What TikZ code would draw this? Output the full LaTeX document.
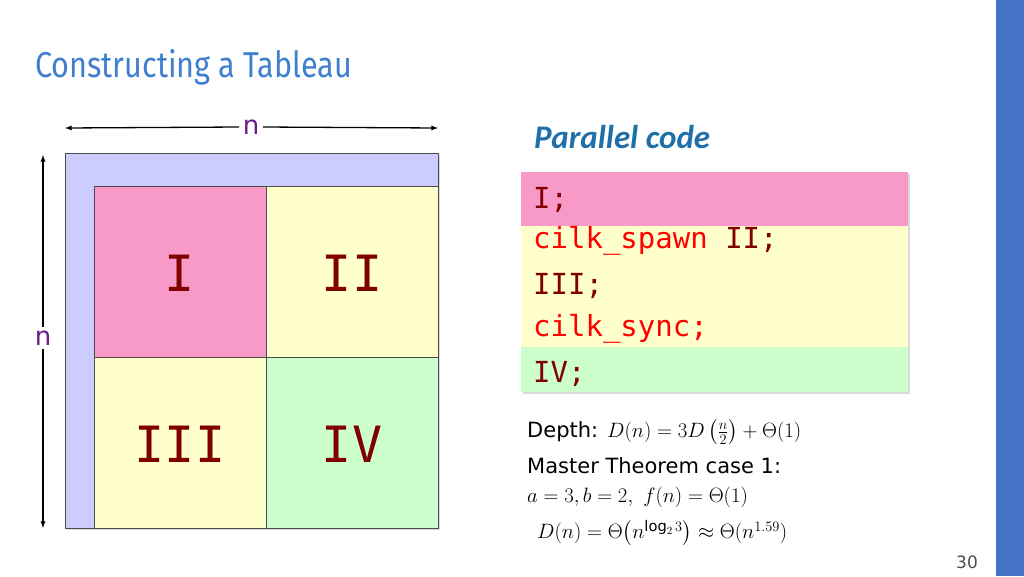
\documentclass[tikz,border=0pt]{standalone}
\usepackage{amsmath}
\usepackage{fontspec}
\setmainfont{DejaVu Sans}
\newfontfamily\titlefont{Fira Sans}
\newfontfamily\calfont{Carlito}
\newfontfamily\codefont{DejaVu Sans Mono}
\usetikzlibrary{shadows}
\definecolor{barblue}{HTML}{4472C4}
\definecolor{titleblue}{HTML}{3F7FD0}
\definecolor{pcblue}{HTML}{1F6FA8}
\definecolor{lav}{HTML}{CCCCFF}
\definecolor{pinkq}{HTML}{F79AC8}
\definecolor{yelq}{HTML}{FFFFCC}
\definecolor{grnq}{HTML}{CCFFCC}
\definecolor{dred}{HTML}{800000}
\definecolor{nlab}{HTML}{6A1B8A}
\tikzset{quad/.style={draw=black!70,line width=0.8pt},
 qlab/.style={font=\codefont\fontsize{50}{50}\selectfont,text=dred},
 code/.style={anchor=west,font=\codefont\fontsize{29}{30}\selectfont,inner sep=0},
 mtext/.style={anchor=west,font=\fontsize{21}{24}\selectfont,inner sep=0},
 dim/.style={<->,>=latex,line width=1.3pt}}
\begin{document}
\begin{tikzpicture}[x=1pt,y=-1pt]
\useasboundingbox (0,0) rectangle (1024,576);
\fill[barblue] (996,0) rectangle (1024,576);
\node[anchor=west,inner sep=0,text=titleblue] (title) at (35,67) {\scalebox{0.85}[1]{\titlefont\fontsize{36}{40}\selectfont Constructing a Tableau}};
% matrix
\fill[lav,draw=black!70,line width=0.8pt,drop shadow={opacity=0.3,shadow xshift=2pt,shadow yshift=-2pt}] (65,153) rectangle (438,528);
\fill[pinkq] (94,186) rectangle (266,357);
\fill[yelq] (266,186) rectangle (438,357);
\fill[yelq] (94,357) rectangle (266,528);
\fill[grnq] (266,357) rectangle (438,528);
\draw[quad] (94,186) rectangle (438,528);
\draw[quad] (266,186) -- (266,528);
\draw[quad] (94,357) -- (438,357);
\node[qlab] (q1) at (180,273) {I};
\node[qlab] (q2) at (352,273) {II};
\node[qlab] (q3) at (180,444) {III};
\node[qlab] (q4) at (352,444) {IV};
% dimensions
\node[text=nlab,font=\fontsize{26}{26}\selectfont] (nt) at (251,127) {n};
\coordinate (tl) at (65,128); \coordinate (tr) at (438,128);
\draw[dim,<-] (tl) -- (nt.west);
\draw[dim,<-] (tr) -- (nt.east);
\node[text=nlab,font=\fontsize{26}{26}\selectfont] (nl) at (43,338) {n};
\coordinate (lt) at (43,155); \coordinate (lb) at (43,528);
\draw[dim,<-] (lt) -- (nl.north);
\draw[dim,<-] (lb) -- (nl.south);
% code
\node[anchor=west,inner sep=0,text=pcblue,font=\calfont\bfseries\itshape\fontsize{33}{33}\selectfont] (pc) at (534,137) {Parallel code};
\fill[yelq,drop shadow={opacity=0.3,shadow xshift=2pt,shadow yshift=-2pt}] (521,172) rectangle (908,392);
\fill[pinkq] (521,172) rectangle (908,226);
\fill[grnq] (521,347) rectangle (908,392);
\node[code,text=dred] (c1) at (533,200) {I;};
\node[code] (c2) at (533,241) {\textcolor{red}{cilk\_spawn} \textcolor{dred}{II;}};
\node[code,text=dred] (c3) at (533,286) {III;};
\node[code,text=red] (c4) at (533,329) {cilk\_sync;};
\node[code,text=dred] (c5) at (533,374) {IV;};
% math
\node[mtext] (m1) at (527,432) {Depth: $D(n)=3D\left(\frac{n}{2}\right)+\Theta(1)$};
\node[mtext] (m2) at (527,466) {Master Theorem case 1:};
\node[mtext] (m3) at (527,497) {$a=3, b=2,\ f(n)=\Theta(1)$};
\node[mtext] (m4) at (537,533) {$D(n)=\Theta\bigl(n^{\log_2 3}\bigr)\approx\Theta(n^{1.59})$};
\node[text=black!70,font=\fontsize{17}{17}\selectfont] (pg) at (967,562) {30};
\end{tikzpicture}
\end{document}
